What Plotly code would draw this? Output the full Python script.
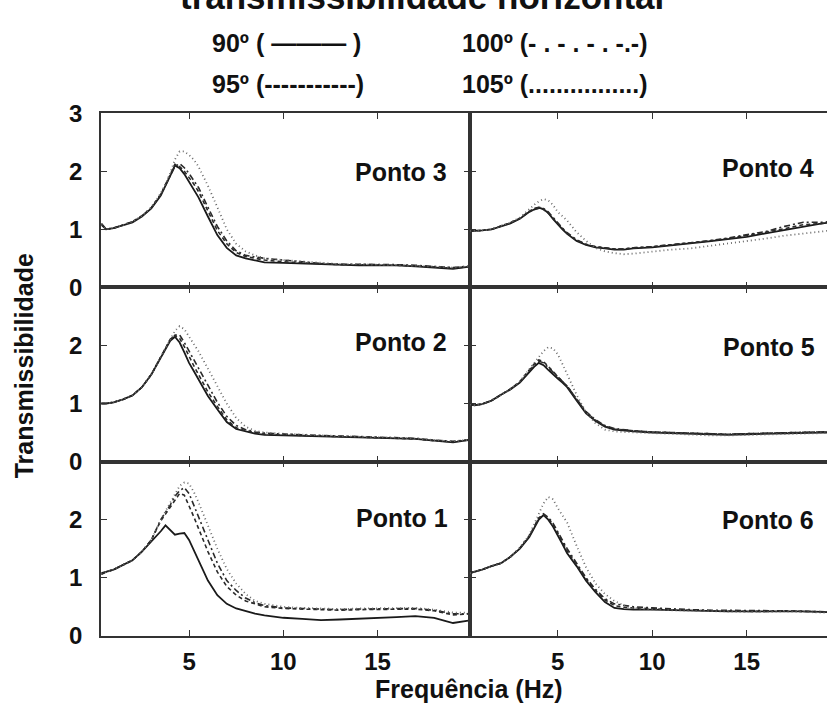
import plotly.graph_objects as go
from plotly.subplots import make_subplots

# Frequency grid (Hz)
freq = [0.35, 0.6, 1, 1.5, 2, 2.5, 3, 3.5, 3.75, 4, 4.25, 4.5, 4.75, 5, 5.25, 5.5,
        6, 6.5, 7, 7.5, 8, 8.5, 9, 10, 11, 12, 13, 14, 15, 16, 17, 18, 19, 20]

angles = ["90º", "95º", "100º", "105º"]

# Ponto 3
p3_90 = [1.10,1.00,1.02,1.07,1.12,1.22,1.36,1.58,1.74,1.92,2.10,2.05,1.95,1.82,1.70,1.55,1.22,0.90,0.68,0.55,0.50,0.46,0.43,0.42,0.41,0.39,0.38,0.38,0.38,0.38,0.36,0.34,0.32,0.36]
p3_95 = [1.08,1.00,1.02,1.07,1.13,1.23,1.37,1.60,1.76,1.94,2.12,2.08,2.00,1.90,1.78,1.65,1.30,0.98,0.75,0.60,0.53,0.50,0.47,0.44,0.42,0.40,0.39,0.39,0.39,0.38,0.37,0.35,0.33,0.36]
p3_100 = [1.08,1.00,1.02,1.07,1.13,1.23,1.37,1.60,1.76,1.94,2.08,2.13,2.06,1.96,1.85,1.72,1.38,1.05,0.80,0.63,0.55,0.52,0.50,0.47,0.44,0.41,0.40,0.40,0.39,0.39,0.38,0.36,0.34,0.37]
p3_105 = [1.08,1.00,1.02,1.07,1.13,1.23,1.38,1.62,1.78,1.97,2.20,2.34,2.34,2.28,2.20,2.08,1.75,1.38,1.00,0.75,0.62,0.55,0.50,0.47,0.45,0.42,0.40,0.40,0.39,0.39,0.38,0.36,0.34,0.37]

# Ponto 4
p4_90 = [0.97,0.97,0.98,1.00,1.05,1.10,1.18,1.30,1.34,1.37,1.35,1.28,1.18,1.08,1.00,0.92,0.80,0.73,0.69,0.67,0.65,0.65,0.67,0.69,0.72,0.75,0.79,0.83,0.87,0.93,0.99,1.05,1.10,1.14]
p4_95 = [0.97,0.97,0.98,1.00,1.05,1.11,1.19,1.31,1.35,1.36,1.34,1.28,1.19,1.10,1.01,0.93,0.81,0.74,0.70,0.68,0.66,0.66,0.68,0.70,0.73,0.76,0.80,0.84,0.89,0.95,1.01,1.08,1.10,1.13]
p4_100 = [0.97,0.97,0.98,1.00,1.05,1.11,1.19,1.31,1.36,1.38,1.36,1.30,1.20,1.10,1.02,0.94,0.82,0.74,0.70,0.68,0.66,0.66,0.68,0.70,0.73,0.76,0.80,0.85,0.90,0.96,1.05,1.12,1.12,1.15]
p4_105 = [0.97,0.97,0.98,1.00,1.06,1.12,1.20,1.35,1.42,1.48,1.52,1.50,1.42,1.30,1.22,1.15,0.95,0.80,0.68,0.62,0.59,0.57,0.58,0.62,0.65,0.67,0.71,0.75,0.79,0.84,0.89,0.93,0.97,1.00]

# Ponto 2
p2_90 = [1.00,1.00,1.02,1.07,1.14,1.28,1.50,1.80,1.95,2.08,2.15,2.05,1.88,1.70,1.56,1.42,1.13,0.90,0.68,0.56,0.52,0.48,0.46,0.45,0.44,0.43,0.42,0.42,0.41,0.40,0.39,0.36,0.33,0.38]
p2_95 = [1.00,1.00,1.02,1.07,1.14,1.28,1.50,1.80,1.96,2.10,2.17,2.12,1.98,1.80,1.65,1.50,1.20,0.95,0.72,0.58,0.53,0.50,0.47,0.46,0.45,0.44,0.43,0.42,0.41,0.40,0.39,0.36,0.34,0.38]
p2_100 = [1.00,1.00,1.02,1.07,1.14,1.28,1.50,1.80,1.96,2.10,2.18,2.18,2.05,1.90,1.75,1.60,1.30,1.02,0.78,0.62,0.55,0.51,0.49,0.47,0.46,0.45,0.44,0.43,0.42,0.41,0.40,0.37,0.35,0.38]
p2_105 = [1.00,1.00,1.02,1.07,1.14,1.28,1.50,1.80,1.97,2.12,2.25,2.33,2.28,2.15,2.03,1.90,1.60,1.30,1.00,0.75,0.60,0.53,0.50,0.48,0.46,0.45,0.44,0.43,0.42,0.41,0.40,0.37,0.35,0.38]

# Ponto 5
p5_90 = [0.98,0.97,0.99,1.05,1.15,1.24,1.36,1.55,1.63,1.70,1.66,1.58,1.50,1.43,1.36,1.28,1.05,0.83,0.70,0.60,0.55,0.53,0.52,0.50,0.49,0.47,0.46,0.46,0.47,0.48,0.49,0.49,0.50,0.50]
p5_95 = [0.98,0.97,0.99,1.05,1.15,1.25,1.38,1.58,1.68,1.75,1.72,1.64,1.55,1.46,1.38,1.30,1.08,0.85,0.71,0.61,0.56,0.54,0.53,0.51,0.50,0.48,0.47,0.47,0.48,0.49,0.50,0.50,0.51,0.51]
p5_100 = [0.98,0.97,0.99,1.05,1.15,1.25,1.37,1.57,1.66,1.73,1.70,1.62,1.54,1.46,1.38,1.30,1.08,0.86,0.72,0.62,0.57,0.55,0.53,0.51,0.50,0.48,0.47,0.47,0.48,0.49,0.50,0.51,0.51,0.52]
p5_105 = [0.98,0.97,0.99,1.05,1.15,1.25,1.38,1.60,1.70,1.80,1.90,1.97,1.95,1.85,1.68,1.50,1.15,0.85,0.66,0.55,0.52,0.51,0.50,0.49,0.48,0.46,0.45,0.45,0.46,0.47,0.48,0.48,0.49,0.49]

# Ponto 1
p1_90 = [1.08,1.10,1.14,1.22,1.30,1.45,1.62,1.80,1.90,1.82,1.74,1.76,1.77,1.65,1.48,1.30,0.95,0.70,0.55,0.47,0.42,0.38,0.35,0.31,0.29,0.27,0.28,0.29,0.30,0.32,0.34,0.31,0.22,0.27]
p1_95 = [1.06,1.10,1.14,1.22,1.30,1.45,1.65,1.98,2.10,2.22,2.35,2.45,2.42,2.25,2.05,1.85,1.45,1.10,0.85,0.70,0.60,0.55,0.50,0.47,0.46,0.45,0.44,0.45,0.45,0.46,0.46,0.43,0.36,0.38]
p1_100 = [1.06,1.10,1.14,1.22,1.30,1.45,1.65,2.00,2.12,2.25,2.40,2.50,2.55,2.45,2.25,2.05,1.65,1.25,0.95,0.78,0.65,0.57,0.52,0.48,0.47,0.46,0.45,0.46,0.46,0.47,0.47,0.44,0.38,0.38]
p1_105 = [1.06,1.10,1.14,1.22,1.30,1.45,1.65,2.00,2.15,2.28,2.45,2.58,2.64,2.62,2.48,2.30,1.90,1.50,1.15,0.90,0.72,0.60,0.55,0.50,0.48,0.47,0.46,0.47,0.47,0.48,0.48,0.45,0.40,0.40]

# Ponto 6
p6_90 = [1.08,1.10,1.14,1.20,1.25,1.36,1.50,1.70,1.85,2.00,2.08,2.00,1.88,1.74,1.58,1.42,1.20,0.95,0.75,0.58,0.48,0.46,0.45,0.45,0.44,0.43,0.43,0.42,0.42,0.42,0.43,0.42,0.41,0.40]
p6_95 = [1.08,1.10,1.14,1.20,1.25,1.36,1.51,1.72,1.88,2.03,2.08,2.02,1.92,1.78,1.62,1.46,1.22,0.98,0.78,0.62,0.52,0.49,0.48,0.46,0.45,0.44,0.43,0.43,0.42,0.42,0.43,0.42,0.41,0.40]
p6_100 = [1.08,1.10,1.14,1.20,1.25,1.36,1.51,1.72,1.87,2.02,2.10,2.04,1.94,1.80,1.66,1.50,1.25,1.00,0.80,0.64,0.55,0.52,0.50,0.48,0.46,0.45,0.44,0.44,0.43,0.43,0.43,0.42,0.41,0.41]
p6_105 = [1.08,1.10,1.14,1.20,1.25,1.36,1.52,1.74,1.92,2.10,2.28,2.39,2.35,2.20,2.08,1.95,1.55,1.18,0.90,0.72,0.60,0.52,0.48,0.45,0.44,0.43,0.42,0.42,0.41,0.41,0.42,0.41,0.40,0.39]

panels = [
    ("Ponto 3", 1, 1, [p3_90, p3_95, p3_100, p3_105]),
    ("Ponto 4", 1, 2, [p4_90, p4_95, p4_100, p4_105]),
    ("Ponto 2", 2, 1, [p2_90, p2_95, p2_100, p2_105]),
    ("Ponto 5", 2, 2, [p5_90, p5_95, p5_100, p5_105]),
    ("Ponto 1", 3, 1, [p1_90, p1_95, p1_100, p1_105]),
    ("Ponto 6", 3, 2, [p6_90, p6_95, p6_100, p6_105]),
]

styles = [
    dict(color="#1a1a1a", width=1.8, dash="solid"),
    dict(color="#2a2a2a", width=1.6, dash="4px,3px"),
    dict(color="#2a2a2a", width=1.6, dash="6px,3px,2px,3px"),
    dict(color="#6a6a6a", width=1.8, dash="1px,3px"),
]

W, H = 827, 720
FONT = "Liberation Sans, Arial, sans-serif"

fig = make_subplots(rows=3, cols=2, horizontal_spacing=0, vertical_spacing=0)

for name, r, c, series in panels:
    for ang, ys, st in zip(angles, series, styles):
        fig.add_trace(go.Scatter(x=freq, y=ys, mode="lines", line=st, name=ang,
                                 showlegend=False, hoverinfo="skip"), row=r, col=c)

# domains in pixels
col_dom = {1: (101, 470), 2: (470, 827)}
row_dom = {1: (103, 284), 2: (284, 465), 3: (465, 646)}
xr = {1: [0.33, 19.9], 2: [0.36, 19.25]}

for r in (1, 2, 3):
    for c in (1, 2):
        x0, x1 = col_dom[c]
        y0, y1 = row_dom[r]
        fig.update_xaxes(domain=[x0 / W, x1 / W], range=xr[c], tickvals=[5, 10, 15],
                         ticktext=["5", "10", "15"], ticks="inside", ticklen=6,
                         tickcolor="#333", showline=True, linecolor="#333", linewidth=1.5,
                         mirror="ticks", showgrid=False, zeroline=False,
                         showticklabels=(r == 3), ticklabelstandoff=4,
                         tickfont=dict(family=FONT, size=24, color="#111", weight="bold"),
                         row=r, col=c)
        fig.update_yaxes(domain=[1 - y1 / H, 1 - y0 / H], range=[0, 3],
                         tickvals=[0, 1, 2, 3],
                         ticktext=["0", "1", "2", "3" if r == 1 else ""],
                         ticks="inside", ticklen=6, tickcolor="#333",
                         showline=True, linecolor="#333", linewidth=1.5,
                         mirror=("ticks" if c == 1 else False),
                         showgrid=False, zeroline=False,
                         showticklabels=(c == 1), ticklabelstandoff=12,
                         tickfont=dict(family=FONT, size=24, color="#111", weight="bold"),
                         row=r, col=c)

ann = []
# panel labels
label_pos = {"Ponto 3": (449, 164), "Ponto 4": (816, 160), "Ponto 2": (449, 341),
             "Ponto 5": (817, 346), "Ponto 1": (450, 524), "Ponto 6": (816, 526)}
for name, (px, py) in label_pos.items():
    ann.append(dict(x=px / W, y=1 - py / H, xref="paper", yref="paper", text=name,
                    showarrow=False, xanchor="right", yanchor="middle",
                    font=dict(family=FONT, size=25, color="#111", weight="bold")))

# legend-like text
leg = [("90º ( ——— )", 210, 30), ("100º (- . - . - . -.-)", 460, 30),
       ("95º (-----------)", 210, 73), ("105º (................)", 460, 73)]
for t, px, py in leg:
    ann.append(dict(x=px / W, y=1 - py / H, xref="paper", yref="paper", text=t,
                    showarrow=False, xanchor="left", yanchor="middle",
                    font=dict(family=FONT, size=25, color="#111", weight="bold")))

# title (cut at top)
ann.append(dict(x=422 / W, y=1 + 18 / H, xref="paper", yref="paper",
                text="transmissibilidade horizontal", showarrow=False,
                xanchor="center", yanchor="middle",
                font=dict(family=FONT, size=35, color="#111", weight="bold")))

# axis titles
ann.append(dict(x=24 / W, y=1 - 366 / H, xref="paper", yref="paper",
                text="Transmissibilidade", showarrow=False, textangle=-90,
                xanchor="center", yanchor="middle",
                font=dict(family=FONT, size=25, color="#111", weight="bold")))
ann.append(dict(x=469 / W, y=1 - 701 / H, xref="paper", yref="paper",
                text="Frequência (Hz)", showarrow=False,
                xanchor="center", yanchor="middle",
                font=dict(family=FONT, size=25, color="#111", weight="bold")))

fig.update_layout(width=W, height=H, margin=dict(l=0, r=0, t=0, b=0),
                  paper_bgcolor="white", plot_bgcolor="white",
                  annotations=ann, showlegend=False)

fig.write_html("out.html")
